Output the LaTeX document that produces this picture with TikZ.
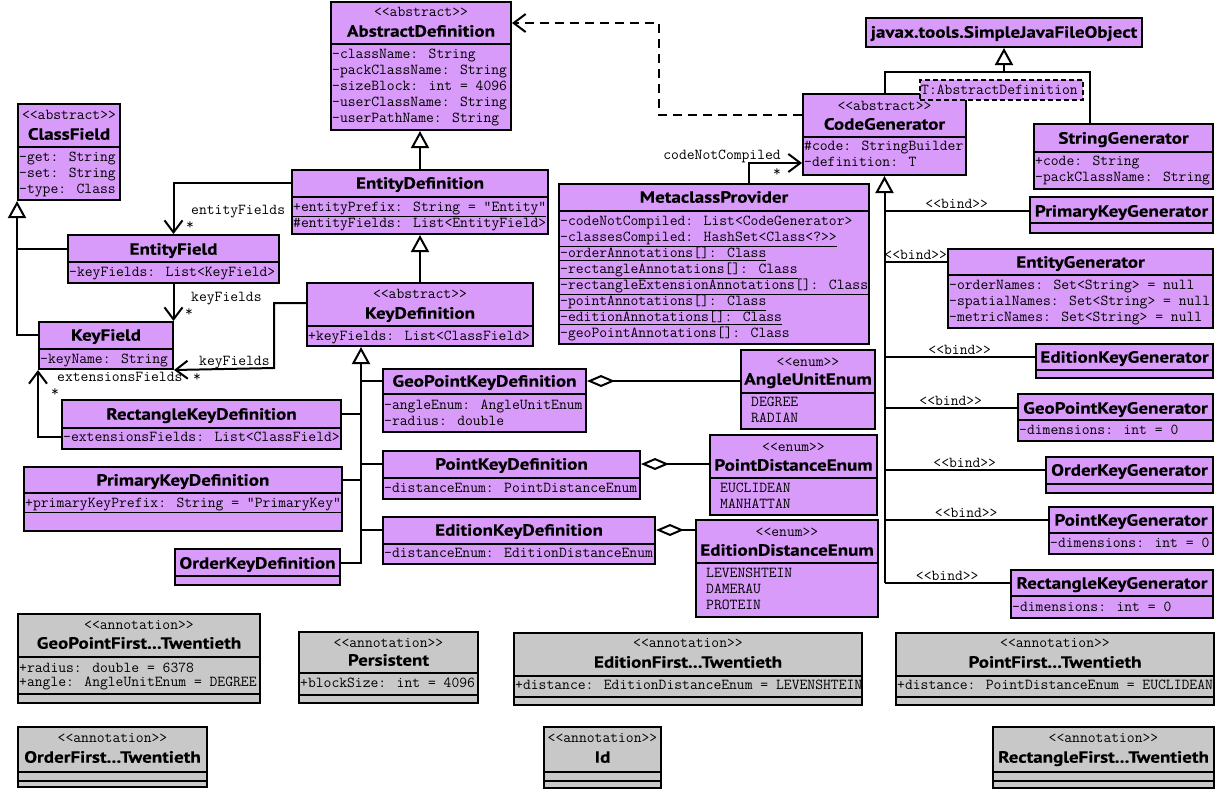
\documentclass[tikz,border=0pt]{standalone}
\usepackage{fontspec}
\newfontfamily\titlefont{PT Sans}[FakeStretch=1.17, BoldFeatures={FakeBold=0.4}]
\usepackage{tikz}
\usetikzlibrary{arrows.meta}

\definecolor{umlpurple}{RGB}{217,155,249}
\definecolor{umlgrey}{RGB}{200,200,200}

\tikzset{
  klass/.style={draw, line width=2pt, fill=umlpurple, inner sep=0pt, anchor=north west},
  annot/.style={klass, fill=umlgrey},
  tparam/.style={klass, dash pattern=on 5pt off 3pt},
  cname/.style={font=\titlefont\bfseries\fontsize{16.3}{18}\selectfont, inner sep=0pt, text height=11.4pt, text depth=0pt},
  mono/.style={font=\ttfamily\fontsize{15.2}{16}\selectfont, inner sep=0pt, text height=9pt, text depth=0pt},
  attr/.style={mono, anchor=west},
  sepline/.style={line width=2pt},
  conn/.style={line width=2pt},
  gen/.style={conn, -{Triangle[open, length=17pt, width=18pt]}},
  assoc/.style={conn, -{Straight Barb[length=12pt, width=18pt]}},
  dep/.style={assoc, dash pattern=on 9pt off 6pt},
  aggr/.style={conn, {Diamond[open, length=28pt, width=12pt]}-},
  bind/.style={mono, midway, yshift=7pt},
}

% box, compartment line, name, stereotype, attribute, enum literal
\newcommand{\umlbox}[6]{\node[#1, minimum width=#5pt, minimum height=#6pt] (#2) at (#3,#4) {};}
\newcommand{\umlsep}[2]{\draw[sepline] (#1.west |- 0,#2) -- (#1.east |- 0,#2);}
\newcommand{\umlname}[3]{\node[cname] (#1t) at (#1.north |- 0,#2) {#3};}
\newcommand{\umlstereo}[3]{\node[mono] at (#1.north |- 0,#2) {#3};}
\newcommand{\umlattr}[3]{\node[attr, xshift=2pt] at (#1.west |- 0,#2) {#3};}
\newcommand{\umllit}[3]{\node[attr, xshift=11pt] at (#1.west |- 0,#2) {#3};}

\begin{document}
\begin{tikzpicture}[x=1pt, y=-1pt]
\fill[white] (0,0) rectangle (1216,788);
\useasboundingbox (0,0) rectangle (1216,788);

% definitions
\umlbox{klass}{ad}{330}{1}{180}{128}
\umlstereo{ad}{12}{<<abstract>>}
\umlname{ad}{31}{AbstractDefinition}
\umlsep{ad}{44}
\umlattr{ad}{54}{-className: String}
\umlattr{ad}{70}{-packClassName: String}
\umlattr{ad}{86}{-sizeBlock: int = 4096}
\umlattr{ad}{102}{-userClassName: String}
\umlattr{ad}{118}{-userPathName: String}

\umlbox{klass}{cf}{17}{103}{102}{96}
\umlstereo{cf}{115}{<<abstract>>}
\umlname{cf}{134}{ClassField}
\umlsep{cf}{147}
\umlattr{cf}{157}{-get: String}
\umlattr{cf}{173}{-set: String}
\umlattr{cf}{189}{-type: Class}

\umlbox{klass}{ed}{291}{169}{256}{64}
\umlname{ed}{183}{EntityDefinition}
\umlsep{ed}{197}
\umlattr{ed}{207}{\underline{+entityPrefix: String = "Entity"}}
\umlattr{ed}{223}{\#entityFields: List<EntityField>}

\umlbox{klass}{ef}{67}{234}{211}{48}
\umlname{ef}{249}{EntityField}
\umlsep{ef}{262}
\umlattr{ef}{272}{-keyFields: List<KeyField>}

\umlbox{klass}{kd}{306}{282}{226}{63}
\umlstereo{kd}{294}{<<abstract>>}
\umlname{kd}{313}{KeyDefinition}
\umlsep{kd}{326}
\umlattr{kd}{336}{+keyFields: List<ClassField>}

\umlbox{klass}{kf}{38}{321}{134}{47}
\umlname{kf}{335}{KeyField}
\umlsep{kf}{349}
\umlattr{kf}{359}{-keyName: String}

\umlbox{klass}{rkd}{61}{399}{279}{49}
\umlname{rkd}{414}{RectangleKeyDefinition}
\umlsep{rkd}{428}
\umlattr{rkd}{437}{-extensionsFields: List<ClassField>}

\umlbox{klass}{pkd}{23}{466}{318}{64}
\umlname{pkd}{480}{PrimaryKeyDefinition}
\umlsep{pkd}{493}
\umlattr{pkd}{503}{\underline{+primaryKeyPrefix: String = "PrimaryKey"}}

\umlbox{klass}{okd}{174}{548}{165}{36}
\umlname{okd}{563}{OrderKeyDefinition}
\umlsep{okd}{576}

\umlbox{klass}{gkd}{382}{368}{203}{63}
\umlname{gkd}{381}{GeoPointKeyDefinition}
\umlsep{gkd}{394}
\umlattr{gkd}{405}{-angleEnum: AngleUnitEnum}
\umlattr{gkd}{421}{-radius: double}

\umlbox{klass}{pokd}{382}{450}{257}{48}
\umlname{pokd}{464}{PointKeyDefinition}
\umlsep{pokd}{478}
\umlattr{pokd}{488}{-distanceEnum: PointDistanceEnum}

\umlbox{klass}{ekd}{382}{516}{272}{47}
\umlname{ekd}{530}{EditionKeyDefinition}
\umlsep{ekd}{544}
\umlattr{ekd}{553}{-distanceEnum: EditionDistanceEnum}

% generators
\umlbox{klass}{sjfo}{865}{17}{276}{29}
\umlname{sjfo}{32}{javax.tools.SimpleJavaFileObject}

\umlbox{klass}{cg}{802}{93}{163}{81}
\umlstereo{cg}{106}{<<abstract>>}
\umlname{cg}{124}{CodeGenerator}
\umlsep{cg}{137}
\umlattr{cg}{146}{\#code: StringBuilder}
\umlattr{cg}{162}{-definition: T}

\umlbox{klass}{sg}{1033}{123}{179}{65}
\umlname{sg}{138}{StringGenerator}
\umlsep{sg}{152}
\umlattr{sg}{161}{+code: String}
\umlattr{sg}{177}{-packClassName: String}

\umlbox{klass}{mp}{558}{183}{310}{160}
\umlname{mp}{197}{MetaclassProvider}
\umlsep{mp}{211}
\umlattr{mp}{221}{-codeNotCompiled: List<CodeGenerator>}
\umlattr{mp}{237}{\underline{-classesCompiled: HashSet<Class<?>>}}
\umlattr{mp}{253}{\underline{-orderAnnotations[]: Class}}
\umlattr{mp}{269}{\underline{-rectangleAnnotations[]: Class}}
\umlattr{mp}{285}{\underline{-rectangleExtensionAnnotations[]: Class}}
\umlattr{mp}{301}{\underline{-pointAnnotations[]: Class}}
\umlattr{mp}{317}{\underline{-editionAnnotations[]: Class}}
\umlattr{mp}{333}{-geoPointAnnotations[]: Class}

\umlbox{klass}{pkg}{1029}{196}{183}{36}
\umlname{pkg}{211}{PrimaryKeyGenerator}
\umlsep{pkg}{223}

\umlbox{klass}{eg}{947}{248}{265}{79}
\umlname{eg}{262}{EntityGenerator}
\umlsep{eg}{275}
\umlattr{eg}{285}{-orderNames: Set<String> = null}
\umlattr{eg}{301}{-spatialNames: Set<String> = null}
\umlattr{eg}{317}{-metricNames: Set<String> = null}

\umlbox{klass}{ekg}{1035}{343}{177}{34}
\umlname{ekg}{357}{EditionKeyGenerator}
\umlsep{ekg}{370}

\umlbox{klass}{gkg}{1017}{393}{195}{47}
\umlname{gkg}{408}{GeoPointKeyGenerator}
\umlsep{gkg}{420}
\umlattr{gkg}{430}{-dimensions: int = 0}

\umlbox{klass}{okg}{1045}{456}{167}{36}
\umlname{okg}{470}{OrderKeyGenerator}
\umlsep{okg}{484}

\umlbox{klass}{ptkg}{1048}{506}{164}{47}
\umlname{ptkg}{520}{PointKeyGenerator}
\umlsep{ptkg}{533}
\umlattr{ptkg}{543}{-dimensions: int = 0}

\umlbox{klass}{rkg}{1010}{569}{202}{48}
\umlname{rkg}{583}{RectangleKeyGenerator}
\umlsep{rkg}{596}
\umlattr{rkg}{607}{-dimensions: int = 0}

% enums
\umlbox{klass}{aue}{740}{349}{134}{79}
\umlstereo{aue}{362}{<<enum>>}
\umlname{aue}{379}{AngleUnitEnum}
\umlsep{aue}{393}
\umllit{aue}{402}{DEGREE}
\umllit{aue}{418}{RADIAN}

\umlbox{klass}{pde}{709}{434}{167}{80}
\umlstereo{pde}{447}{<<enum>>}
\umlname{pde}{465}{PointDistanceEnum}
\umlsep{pde}{478}
\umllit{pde}{488}{EUCLIDEAN}
\umllit{pde}{504}{MANHATTAN}

\umlbox{klass}{ede}{695}{519}{182}{97}
\umlstereo{ede}{532}{<<enum>>}
\umlname{ede}{550}{EditionDistanceEnum}
\umlsep{ede}{563}
\umllit{ede}{573}{LEVENSHTEIN}
\umllit{ede}{589}{DAMERAU}
\umllit{ede}{605}{PROTEIN}

% annotations
\umlbox{annot}{gpa}{17}{613}{242}{89}
\umlstereo{gpa}{625}{<<annotation>>}
\umlname{gpa}{643}{GeoPointFirst...Twentieth}
\umlsep{gpa}{657}
\umlattr{gpa}{668}{+radius: double = 6378}
\umlattr{gpa}{682}{+angle: AngleUnitEnum = DEGREE}
\umlsep{gpa}{694}

\umlbox{annot}{per}{298}{631}{179}{71}
\umlstereo{per}{643}{<<annotation>>}
\umlname{per}{660}{Persistent}
\umlsep{per}{673}
\umlattr{per}{683}{+blockSize: int = 4096}
\umlsep{per}{695}

\umlbox{annot}{efa}{513}{632}{348}{72}
\umlstereo{efa}{643}{<<annotation>>}
\umlname{efa}{662}{EditionFirst...Twentieth}
\umlsep{efa}{676}
\umlattr{efa}{685}{+distance: EditionDistanceEnum = LEVENSHTEIN}
\umlsep{efa}{697}

\umlbox{annot}{pfa}{895}{632}{318}{72}
\umlstereo{pfa}{643}{<<annotation>>}
\umlname{pfa}{662}{PointFirst...Twentieth}
\umlsep{pfa}{676}
\umlattr{pfa}{685}{+distance: PointDistanceEnum = EUCLIDEAN}
\umlsep{pfa}{697}

\umlbox{annot}{ofa}{17}{726}{189}{60}
\umlstereo{ofa}{738}{<<annotation>>}
\umlname{ofa}{757}{OrderFirst...Twentieth}
\umlsep{ofa}{772}
\umlsep{ofa}{781}

\umlbox{annot}{ida}{543}{726}{117}{61}
\umlstereo{ida}{738}{<<annotation>>}
\umlname{ida}{757}{Id}
\umlsep{ida}{772}
\umlsep{ida}{781}

\umlbox{annot}{rfa}{992}{726}{221}{61}
\umlstereo{rfa}{738}{<<annotation>>}
\umlname{rfa}{757}{RectangleFirst...Twentieth}
\umlsep{rfa}{772}
\umlsep{rfa}{781}

% inheritance, left part
\draw[gen] (ed.north) -- (ed.north |- ad.south);
\draw[gen] (kd.north) -- (kd.north |- ed.south);
\draw[gen] (kft -| kf.west) -| (cf.south west);
\draw[conn] (eft -| ef.west) -- (eft -| cf.west);

\coordinate (kdTrunk) at (361,0);
\draw[gen] (okdt -| okd.east) -| (kdTrunk |- kd.south);
\draw[conn] (gkdt -| gkd.west) -- (gkdt -| kdTrunk);
\draw[conn] (rkdt -| rkd.east) -- (rkdt -| kdTrunk);
\draw[conn] (pokdt -| pokd.west) -- (pokdt -| kdTrunk);
\draw[conn] (pkdt -| pkd.east) -- (pkdt -| kdTrunk);
\draw[conn] (ekdt -| ekd.west) -- (ekdt -| kdTrunk);

% associations
\draw[assoc] (edt -| ed.west) -| (ef.north);
\node[attr] (lblEntity) at (191,210) {entityFields};
\node[attr] (mulEntity) at (186,225) {*};

\draw[assoc] (ef.south) -- (ef.south |- kf.north);
\node[attr] (lblKeyA) at (191,297) {keyFields};
\node[attr] (mulKeyA) at (185,312) {*};

\coordinate (kdOut) at (kd.west |- 0,303);
\coordinate (kfBend) at (274,368);
\draw[assoc] (kdOut) -| (kfBend) -- (kf.south east);
\node[attr] (lblKeyB) at (199,361) {keyFields};
\node[attr] (mulKeyB) at (193,377) {*};

\draw[assoc] (rkd.west |- 0,437) -| (kf.south west);
\node[attr] (lblExt) at (57,377) {extensionsFields};
\node[attr] (mulExt) at (51,392) {*};

% aggregations to enums
\draw[aggr] (gkdt -| gkd.east) -- (gkdt -| aue.west);
\draw[aggr] (pokdt -| pokd.east) -- (pokdt -| pde.west);
\draw[aggr] (ekdt -| ekd.east) -- (ekdt -| ede.west);

% generator part
\coordinate (depBend) at (659,23);
\draw[dep] (cg.west |- 0,115) -| (depBend) -- (depBend -| ad.east);

\coordinate (cncBend) at (749,163);
\draw[assoc] (mp.north -| cncBend) -- (cncBend) -- (cncBend -| cg.west);
\node[attr, anchor=east] (lblCode) at (781,155) {codeNotCompiled};
\node[attr] (mulCode) at (773,172) {*};

\coordinate (sjBar) at (sjfo.south |- 0,72);
\coordinate (sgUp) at (1090,72);
\draw[gen] (cg.north) |- (sjBar) -- (sjfo.south);
\draw[conn] (sjBar) -- (sgUp) -- (sgUp |- sg.north);

\draw[gen] (cg.south |- rkgt) -- (cg.south);
\draw[conn] (cg.south |- pkgt) -- (pkgt -| pkg.west) node[bind] {<<bind>>};
\draw[conn] (cg.south |- egt) -- (egt -| eg.west) node[bind] {<<bind>>};
\draw[conn] (cg.south |- ekgt) -- (ekgt -| ekg.west) node[bind] {<<bind>>};
\draw[conn] (cg.south |- gkgt) -- (gkgt -| gkg.west) node[bind] {<<bind>>};
\draw[conn] (cg.south |- okgt) -- (okgt -| okg.west) node[bind] {<<bind>>};
\draw[conn] (cg.south |- ptkgt) -- (ptkgt -| ptkg.west) node[bind] {<<bind>>};
\draw[conn] (cg.south |- rkgt) -- (rkgt -| rkg.west) node[bind] {<<bind>>};

% template parameter
\node[tparam, minimum width=163pt, minimum height=20pt] (tpar) at (919,79) {};
\node[attr, xshift=2pt] (tparText) at (tpar.west) {T:AbstractDefinition};
\end{tikzpicture}
\end{document}
